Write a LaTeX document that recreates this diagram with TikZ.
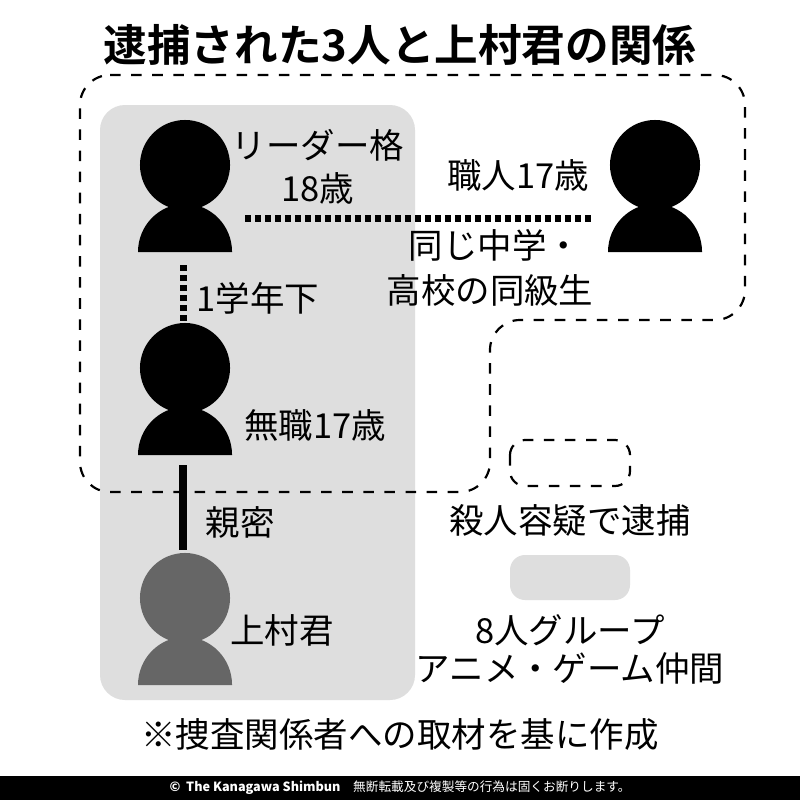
\documentclass[tikz,border=0pt]{standalone}
\usepackage{fontspec}
\setmainfont{Noto Sans CJK JP}
\newfontfamily\jpbold{Noto Sans CJK JP Bold}
\usetikzlibrary{positioning}
\tikzset{
  lbl/.style={font=\fontsize{9.8pt}{11pt}\selectfont, inner sep=0pt},
  tie/.style={line width=0.07cm, dash pattern=on 0.06cm off 0.04cm},
  grouparea/.style={fill=black!13, draw=none, rounded corners=0.25cm}
}
\newcommand{\personfig}[4]{% name, x, y, colour
  \fill[#4] (#2, #3) circle (0.45cm);
  \fill[#4] (#2-47, #3+87) arc (180:0:0.47cm and 0.48cm) -- cycle;
  \coordinate (#1) at (#2, #3+40);
}
\begin{document}
\begin{tikzpicture}[x=0.01cm, y=-0.01cm]
  \useasboundingbox (0,0) rectangle (800,800);
  \fill[white] (0,0) rectangle (800,800);
  % group of eight
  \fill[grouparea] (100,105) rectangle (415,700);
  % arrested
  \draw[dashed, line width=0.022cm, rounded corners=0.3cm]
    (80,75) -- (745,75) -- (745,320) -- (490,320) -- (490,492) -- (80,492) -- cycle;
  \node[lbl, font=\jpbold\fontsize{12.4pt}{14pt}\selectfont] (title) at (400,45) {逮捕された3人と上村君の関係};
  % people
  \personfig{leader}{185}{165}{black}
  \personfig{craft}{655}{165}{black}
  \personfig{jobless}{185}{368}{black}
  \personfig{kamimura}{185}{598}{black!60}
  \coordinate (hA) at (245,218);
  \coordinate (hB) at (592,218);
  \draw[tie] (hA) -- (hB);
  \coordinate (vA) at (183,265);
  \coordinate (vB) at (183,332);
  \draw[tie] (vA) -- (vB);
  \coordinate (sA) at (183,465);
  \coordinate (sB) at (183,550);
  \draw[line width=0.08cm] (sA) -- (sB);
  % labels
  \node[lbl] (lname) at (318,145) {リーダー格};
  \node[lbl] (lage) at (318,188) {18歳};
  \node[lbl] (cname) at (518,175) {職人17歳};
  \node[lbl] (same1) at (495,245) {同じ中学・};
  \node[lbl] (same2) at (490,290) {高校の同級生};
  \node[lbl] (grade) at (258,298) {1学年下};
  \node[lbl] (jname) at (315,425) {無職17歳};
  \node[lbl] (close) at (240,522) {親密};
  \node[lbl] (kname) at (282,630) {上村君};
  % legend
  \draw[dashed, line width=0.022cm, rounded corners=0.15cm] (510,440) rectangle (630,486);
  \node[lbl] (lg1) at (570,520) {殺人容疑で逮捕};
  \fill[grouparea, rounded corners=0.15cm] (510,555) rectangle (630,600);
  \node[lbl] (lg2) at (570,630) {8人グループ};
  \node[lbl] (lg3) at (570,668) {アニメ・ゲーム仲間};
  \node[lbl] (note) at (400,735) {※捜査関係者への取材を基に作成};
  % footer
  \fill[black] (0,776) rectangle (800,800);
  \node[lbl, white, font=\fontsize{3.6pt}{4pt}\selectfont] (foot) at (400,788)
    {\textbf{©\ \ The Kanagawa Shimbun}\quad 無断転載及び複製等の行為は固くお断りします。};
\end{tikzpicture}
\end{document}
